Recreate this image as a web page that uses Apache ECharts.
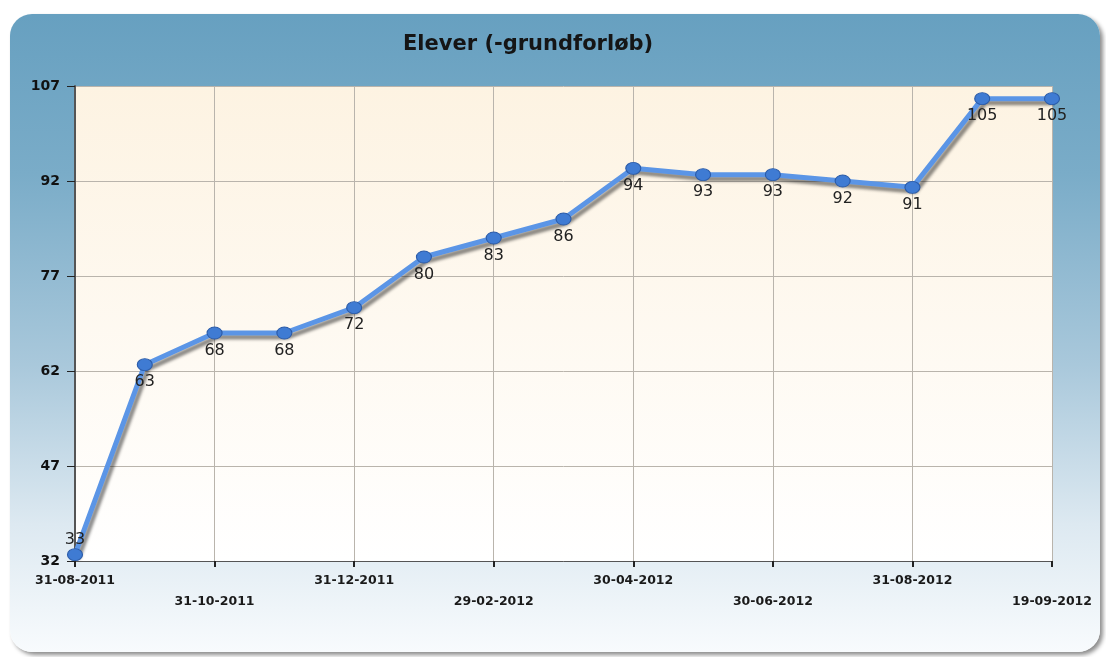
<!DOCTYPE html>
<html>
<head>
<meta charset="utf-8">
<script src="https://cdn.jsdelivr.net/npm/echarts@6/dist/echarts.min.js"></script>
<style>
html, body { margin: 0; padding: 0; background: #fff; }
#panel {
	position: absolute; left: 10px; top: 14px; width: 1090px; height: 638px;
	border-radius: 22px;
	background: linear-gradient(to bottom, #67a0c0 0%, #7aacc8 25%, #a9c8db 55%, #dde9f1 80%, #f8fbfd 100%);
	box-shadow: 3px 3px 4px rgba(0,0,0,0.45);
}
#datas { position: absolute; left: 0; top: 0; width: 1106px; height: 657px; }
</style>
</head>
<body>
<div id="panel"></div>
<div id="datas"></div>
<script>
var categories = ['31-08-2011','30-09-2011','31-10-2011','30-11-2011','31-12-2011','31-01-2012','29-02-2012','31-03-2012','30-04-2012','31-05-2012','30-06-2012','31-07-2012','31-08-2012','12-09-2012','19-09-2012'];
var elever = [33, 63, 68, 68, 72, 80, 83, 86, 94, 93, 93, 92, 91, 105, 105];
var yTicks = { min: 32, max: 107, interval: 15 };

// første punkt ligger på aksen, så etiketten skal stå over punktet
var seriesData = elever.map(function (v, i) {
	if (i === 0) {
		return { value: v, label: { position: 'top', distance: 0 } };
	}
	return v;
});

var option = {
	title: {
		text: 'Elever (-grundforløb)',
		left: 398,
		top: 29,
		textStyle: { fontFamily: 'DejaVu Sans', fontWeight: 'bold', fontSize: 21, color: '#151515' }
	},
	grid: {
		left: 75, right: 54, top: 86, bottom: 96,
		show: true,
		borderWidth: 0,
		backgroundColor: new echarts.graphic.LinearGradient(0, 0, 0, 1, [
			{ offset: 0, color: '#fdf3e2' },
			{ offset: 1, color: '#ffffff' }
		])
	},
	xAxis: {
		type: 'category',
		data: categories,
		boundaryGap: false,
		axisLine: { lineStyle: { color: '#555', width: 1 } },
		axisTick: { interval: 1, length: 6, lineStyle: { color: '#222', width: 2 } },
		axisLabel: {
			interval: 1,
			margin: 9,
			lineHeight: 21,
			fontFamily: 'DejaVu Sans',
			fontWeight: 'bold',
			fontSize: 12.5,
			color: '#1a1a1a',
			formatter: function (v, i) {
				return i % 4 === 2 ? '\n' + v : v;
			}
		},
		splitLine: { show: true, interval: 1, lineStyle: { color: '#b9b4ac', width: 1 } }
	},
	yAxis: {
		type: 'value',
		min: yTicks.min,
		max: yTicks.max,
		interval: yTicks.interval,
		axisLine: { show: true, lineStyle: { color: '#555', width: 2 } },
		axisTick: { show: true, length: 8, lineStyle: { color: '#222', width: 1 } },
		axisLabel: {
			margin: 15,
			fontFamily: 'DejaVu Sans',
			fontWeight: 'bold',
			fontSize: 14,
			color: '#111'
		},
		splitLine: { lineStyle: { color: '#b9b4ac', width: 1 } }
	},
	series: [{
		type: 'line',
		data: seriesData,
		symbol: 'circle',
		symbolSize: [15, 12],
		lineStyle: {
			color: '#5b95e6',
			width: 5,
			shadowColor: 'rgba(0,0,0,0.45)',
			shadowOffsetX: 3,
			shadowOffsetY: 4,
			shadowBlur: 3
		},
		itemStyle: {
			color: '#3f7bd3',
			borderColor: '#2b5ba8',
			borderWidth: 1
		},
		label: {
			show: true,
			position: 'bottom',
			distance: 3,
			fontFamily: 'DejaVu Sans',
			fontSize: 16,
			color: '#222'
		},
		animation: false
	}],
	animation: false
};

var myChart = echarts.init(document.getElementById('datas'));
myChart.setOption(option);
</script>
</body>
</html>
